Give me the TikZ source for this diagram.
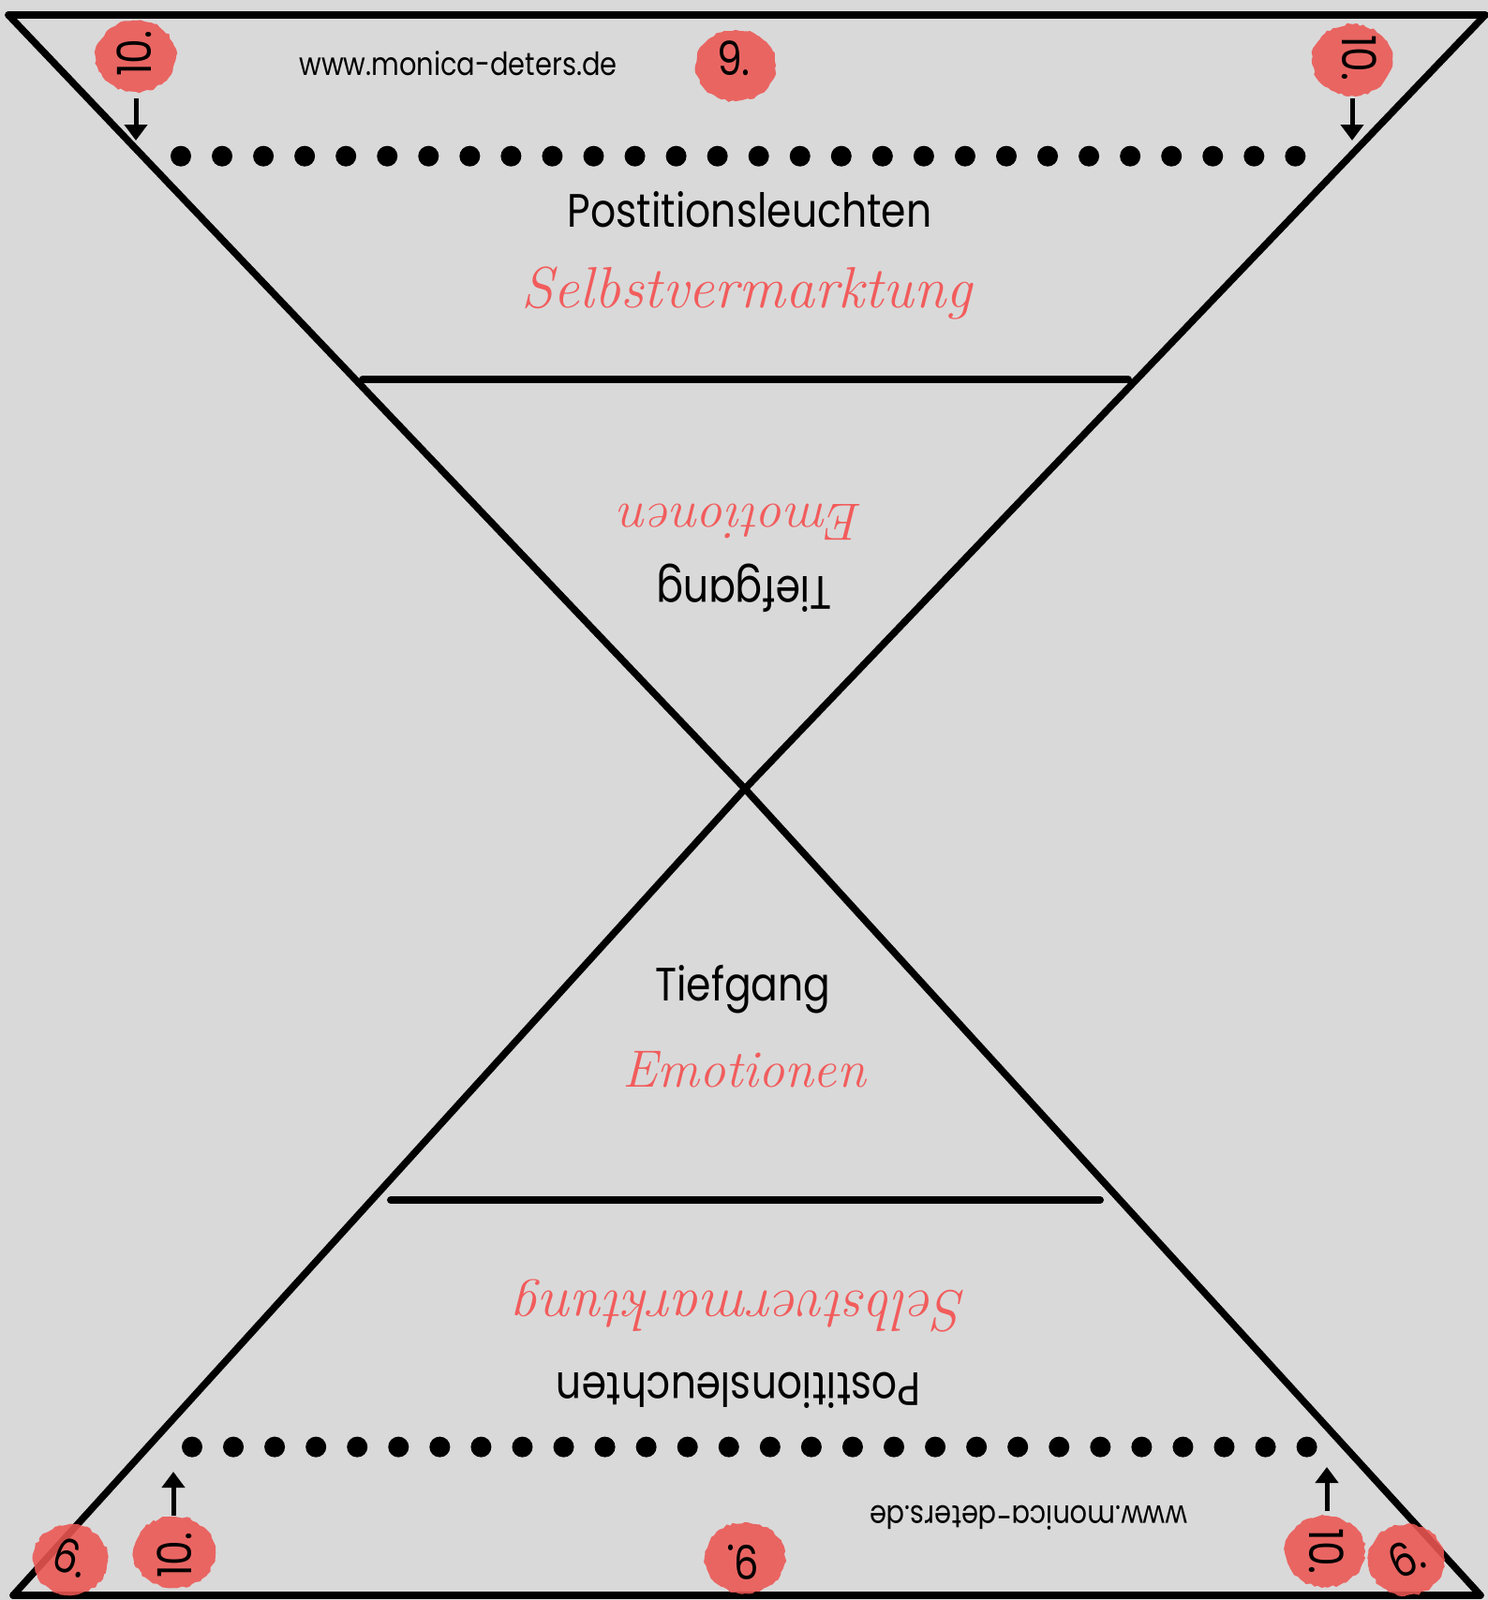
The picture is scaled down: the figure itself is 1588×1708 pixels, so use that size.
\documentclass[tikz,border=0pt]{standalone}
\usepackage{fontspec}
\setmainfont{Poppins}[FakeStretch=0.85]
\newfontfamily\scriptfnt{Latin Modern Roman}
\usetikzlibrary{arrows.meta,decorations.pathmorphing}
\definecolor{bg}{RGB}{217,217,217}
\definecolor{blobred}{RGB}{236,86,82}
\definecolor{scriptred}{RGB}{242,92,92}
\begin{document}
\begin{tikzpicture}[x=0.5pt,y=-0.5pt,
  frame/.style={line width=3.75pt,line cap=round,line join=round},
  bar/.style={line width=4pt,line cap=round},
  dotnode/.style={circle,fill=black,inner sep=0pt,minimum size=11pt},
  blob/.style={fill=blobred,fill opacity=0.88,decorate,decoration={random steps,segment length=2pt,amplitude=0.7pt}},
  num/.style={font=\fontsize{25}{25}\selectfont,inner sep=0pt},
  lbl/.style={font=\fontsize{25}{25}\selectfont,inner sep=0pt,anchor=base},
  url/.style={font=\fontsize{17}{17}\selectfont,inner sep=0pt,anchor=base},
  scr/.style={text=scriptred,font=\scriptfnt\itshape\fontsize{31}{31}\selectfont,inner sep=0pt,anchor=base},
  pointer/.style={line width=2.5pt,-{Triangle[width=12pt,length=8.5pt]}}]
\useasboundingbox (0,0) rectangle (1588,1708);
\fill[bg] (0,0) rectangle (1588,1708);
% frame corners
\coordinate (TL) at (9,16);
\coordinate (TR) at (1585,16);
\coordinate (BL) at (14,1703);
\coordinate (BR) at (1580,1703);
\coordinate (C) at (795,842);
\draw[frame] (TL) -- (TR);
\draw[frame] (BL) -- (BR);
\draw[frame] (TL) -- (C) -- (BR);
\draw[frame] (TR) -- (C) -- (BL);
% bars
\coordinate (b1l) at (387,405);
\coordinate (b1r) at (1204,405);
\coordinate (b2l) at (417,1281);
\coordinate (b2r) at (1174,1281);
\draw[bar] (b1l) -- (b1r);
\draw[bar] (b2l) -- (b2r);
% dots
\foreach \i in {0,...,27}{
  \node[dotnode] (dt\i) at ({193+44.05*\i},166.7) {};
  \node[dotnode] (db\i) at ({205+44.06*\i},1544.6) {};
}
% arrows
\coordinate (a1s) at (145,105); \coordinate (a1e) at (145,150);
\coordinate (a2s) at (1443,105); \coordinate (a2e) at (1443,150);
\coordinate (a3s) at (185,1618); \coordinate (a3e) at (185,1571);
\coordinate (a4s) at (1416,1613); \coordinate (a4e) at (1416,1566);
\draw[pointer] (a1s) -- (a1e);
\draw[pointer] (a2s) -- (a2e);
\draw[pointer] (a3s) -- (a3e);
\draw[pointer] (a4s) -- (a4e);
% texts
\node[url] (urltop) at (489,80) {www.monica-deters.de};
\node[url,rotate=180] (urlbot) at (1098,1607) {www.monica-deters.de};
\node[lbl] (postop) at (800,242) {Postitionsleuchten};
\node[scr] (selbtop) at (797,328) {Selbstvermarktung};
\node[lbl,rotate=180] (tiefup) at (794,615) {Tiefgang};
\node[scr,font=\scriptfnt\itshape\fontsize{28}{28}\selectfont,rotate=180] (emoup) at (792,538) {Emotionen};
\node[lbl] (tief) at (793,1068) {Tiefgang};
\node[scr,font=\scriptfnt\itshape\fontsize{28}{28}\selectfont] (emo) at (794,1160) {Emotionen};
\node[scr,rotate=180] (selbbot) at (792,1378) {Selbstvermarktung};
\node[lbl,rotate=180] (posbot) at (788,1465) {Postitionsleuchten};
% blobs
\fill[blob] (145,60) ellipse [x radius=21.5pt,y radius=19pt];
\fill[blob] (785,70) ellipse [x radius=21.5pt,y radius=19pt];
\fill[blob] (1443,64) ellipse [x radius=21.5pt,y radius=19pt];
\fill[blob] (75,1665) ellipse [x radius=20pt,y radius=19pt];
\fill[blob] (186,1657) ellipse [x radius=22pt,y radius=19pt];
\fill[blob] (795,1663) ellipse [x radius=21.5pt,y radius=19pt];
\fill[blob] (1414,1656) ellipse [x radius=21.5pt,y radius=19pt];
\fill[blob] (1501,1665) ellipse [x radius=20.5pt,y radius=19pt];
% numbers
\node[num,rotate=90] (n1) at (143,57) {10.};
\node[num] (n2) at (783,62) {9.};
\node[num,rotate=-90] (n3) at (1451,62) {10.};
\node[num,rotate=-20] (n4) at (76,1662) {6.};
\node[num,rotate=90] (n5) at (186,1660) {10.};
\node[num,rotate=180] (n6) at (793,1668) {9.};
\node[num,rotate=-90] (n7) at (1416,1656) {10.};
\node[num,rotate=25] (n8) at (1501,1663) {6.};
\end{tikzpicture}
\end{document}
